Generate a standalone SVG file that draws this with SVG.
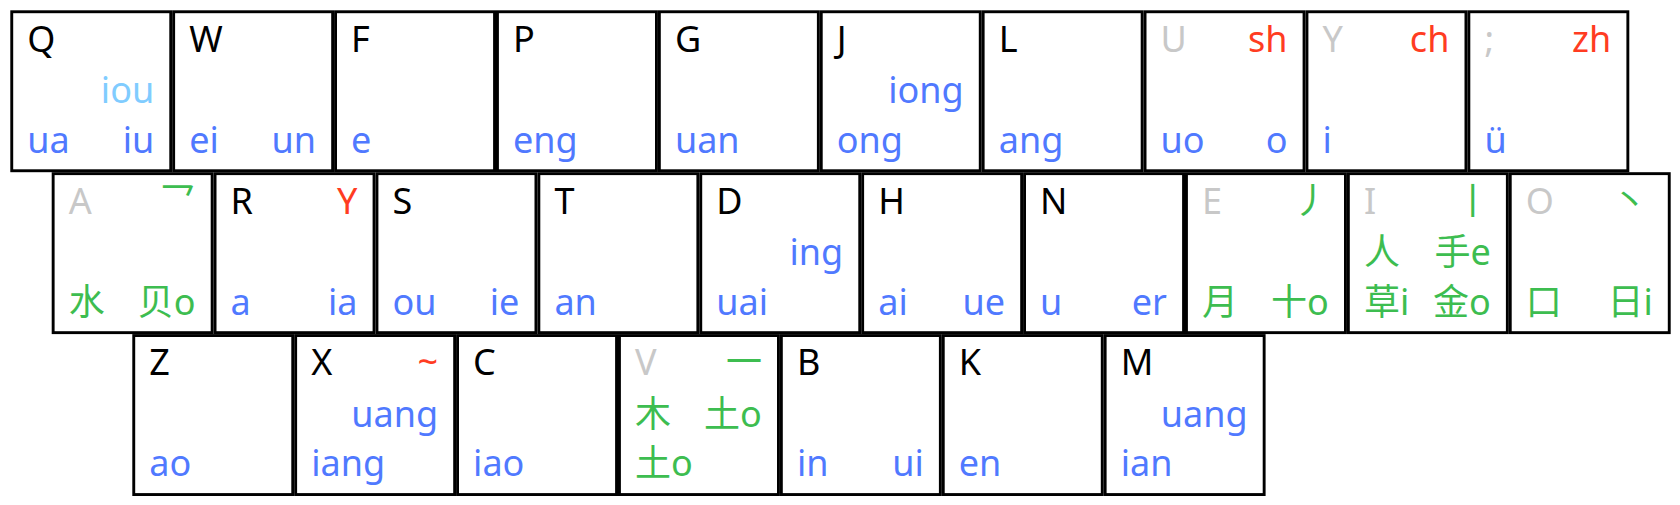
<svg xmlns="http://www.w3.org/2000/svg" width="1680" height="505" viewBox="0 0 1680 505">
<style>
rect.k{fill:#fff;stroke:#000;stroke-width:2.9}
text{font-family:"Noto Sans","Noto Sans CJK SC",sans-serif;font-size:36px}
.e{text-anchor:end}
.bk{fill:#000}
.gy{fill:#c8c8c8}
.rd{fill:#ff3c22}
.bl{fill:#5079ff}
.lb{fill:#80ccff}
.gr{fill:#3dbd50}
</style>
<defs>
<rect id="box" class="k" x="1.45" y="1.45" width="159" height="159"/>
</defs>
<rect width="1680" height="505" fill="#fff"/>
<g id="keys">
<g id="key-Q" transform="translate(10.3,10.3)"><use href="#box"/><text class="bk" x="17" y="41.4">Q</text><text class="lb e" x="143.9" y="92.8">iou</text><text class="bl" x="17" y="142.4">ua</text><text class="bl e" x="143.9" y="142.4">iu</text></g>
<g id="key-W" transform="translate(172.2,10.3)"><use href="#box"/><text class="bk" x="17" y="41.4">W</text><text class="bl" x="17" y="142.4">ei</text><text class="bl e" x="143.9" y="142.4">un</text></g>
<g id="key-F" transform="translate(334.1,10.3)"><use href="#box"/><text class="bk" x="17" y="41.4">F</text><text class="bl" x="17" y="142.4">e</text></g>
<g id="key-P" transform="translate(496,10.3)"><use href="#box"/><text class="bk" x="17" y="41.4">P</text><text class="bl" x="17" y="142.4">eng</text></g>
<g id="key-G" transform="translate(657.9,10.3)"><use href="#box"/><text class="bk" x="17" y="41.4">G</text><text class="bl" x="17" y="142.4">uan</text></g>
<g id="key-J" transform="translate(819.8,10.3)"><use href="#box"/><text class="bk" x="17" y="41.4">J</text><text class="bl e" x="143.9" y="92.8">iong</text><text class="bl" x="17" y="142.4">ong</text></g>
<g id="key-L" transform="translate(981.7,10.3)"><use href="#box"/><text class="bk" x="17" y="41.4">L</text><text class="bl" x="17" y="142.4">ang</text></g>
<g id="key-U" transform="translate(1143.6,10.3)"><use href="#box"/><text class="gy" x="17" y="41.4">U</text><text class="rd e" x="143.9" y="41.4">sh</text><text class="bl" x="17" y="142.4">uo</text><text class="bl e" x="143.9" y="142.4">o</text></g>
<g id="key-Y" transform="translate(1305.5,10.3)"><use href="#box"/><text class="gy" x="17" y="41.4">Y</text><text class="rd e" x="143.9" y="41.4">ch</text><text class="bl" x="17" y="142.4">i</text></g>
<g id="key-semicolon" transform="translate(1467.4,10.3)"><use href="#box"/><text class="gy" x="17" y="41.4">;</text><text class="rd e" x="143.9" y="41.4">zh</text><text class="bl" x="17" y="142.4">ü</text></g>

<g id="key-A" transform="translate(51.7,172.2)"><use href="#box"/><text class="gy" x="17" y="41.4">A</text><text class="gr e" x="143.9" y="41.4">乛</text><text class="gr" x="17" y="142.4">水</text><text class="gr e" x="143.9" y="142.4">贝o</text></g>
<g id="key-R" transform="translate(213.6,172.2)"><use href="#box"/><text class="bk" x="17" y="41.4">R</text><text class="rd e" x="143.9" y="41.4">Y</text><text class="bl" x="17" y="142.4">a</text><text class="bl e" x="143.9" y="142.4">ia</text></g>
<g id="key-S" transform="translate(375.5,172.2)"><use href="#box"/><text class="bk" x="17" y="41.4">S</text><text class="bl" x="17" y="142.4">ou</text><text class="bl e" x="143.9" y="142.4">ie</text></g>
<g id="key-T" transform="translate(537.4,172.2)"><use href="#box"/><text class="bk" x="17" y="41.4">T</text><text class="bl" x="17" y="142.4">an</text></g>
<g id="key-D" transform="translate(699.3,172.2)"><use href="#box"/><text class="bk" x="17" y="41.4">D</text><text class="bl e" x="143.9" y="92.8">ing</text><text class="bl" x="17" y="142.4">uai</text></g>
<g id="key-H" transform="translate(861.2,172.2)"><use href="#box"/><text class="bk" x="17" y="41.4">H</text><text class="bl" x="17" y="142.4">ai</text><text class="bl e" x="143.9" y="142.4">ue</text></g>
<g id="key-N" transform="translate(1023.1,172.2)"><use href="#box"/><text class="bk" x="17" y="41.4">N</text><text class="bl" x="17" y="142.4">u</text><text class="bl e" x="143.9" y="142.4">er</text></g>
<g id="key-E" transform="translate(1185,172.2)"><use href="#box"/><text class="gy" x="17" y="41.4">E</text><text class="gr e" x="143.9" y="41.4">丿</text><text class="gr" x="17" y="142.4">月</text><text class="gr e" x="143.9" y="142.4">十o</text></g>
<g id="key-I" transform="translate(1346.9,172.2)"><use href="#box"/><text class="gy" x="17" y="41.4">I</text><text class="gr e" x="143.9" y="41.4">丨</text><text class="gr" x="17" y="92.8">人</text><text class="gr e" x="143.9" y="92.8">手e</text><text class="gr" x="17" y="142.4">草i</text><text class="gr e" x="143.9" y="142.4">金o</text></g>
<g id="key-O" transform="translate(1508.8,172.2)"><use href="#box"/><text class="gy" x="17" y="41.4">O</text><text class="gr e" x="139" y="41.4">丶</text><text class="gr" x="17" y="142.4">口</text><text class="gr e" x="143.9" y="142.4">日i</text></g>

<g id="key-Z" transform="translate(132.3,334.1)"><use href="#box"/><text class="bk" x="17" y="41.4">Z</text><text class="bl" x="17" y="142.4">ao</text></g>
<g id="key-X" transform="translate(294.2,334.1)"><use href="#box"/><text class="bk" x="17" y="41.4">X</text><text class="rd e" x="143.9" y="41.4">~</text><text class="bl e" x="143.9" y="92.8">uang</text><text class="bl" x="17" y="142.4">iang</text></g>
<g id="key-C" transform="translate(456.1,334.1)"><use href="#box"/><text class="bk" x="17" y="41.4">C</text><text class="bl" x="17" y="142.4">iao</text></g>
<g id="key-V" transform="translate(618,334.1)"><use href="#box"/><text class="gy" x="17" y="41.4">V</text><text class="gr e" x="143.9" y="41.4">一</text><text class="gr" x="17" y="92.8">木</text><text class="gr e" x="143.9" y="92.8">土o</text><text class="gr" x="17" y="142.4">土o</text></g>
<g id="key-B" transform="translate(779.9,334.1)"><use href="#box"/><text class="bk" x="17" y="41.4">B</text><text class="bl" x="17" y="142.4">in</text><text class="bl e" x="143.9" y="142.4">ui</text></g>
<g id="key-K" transform="translate(941.8,334.1)"><use href="#box"/><text class="bk" x="17" y="41.4">K</text><text class="bl" x="17" y="142.4">en</text></g>
<g id="key-M" transform="translate(1103.7,334.1)"><use href="#box"/><text class="bk" x="17" y="41.4">M</text><text class="bl e" x="143.9" y="92.8">uang</text><text class="bl" x="17" y="142.4">ian</text></g>
</g>
</svg>
